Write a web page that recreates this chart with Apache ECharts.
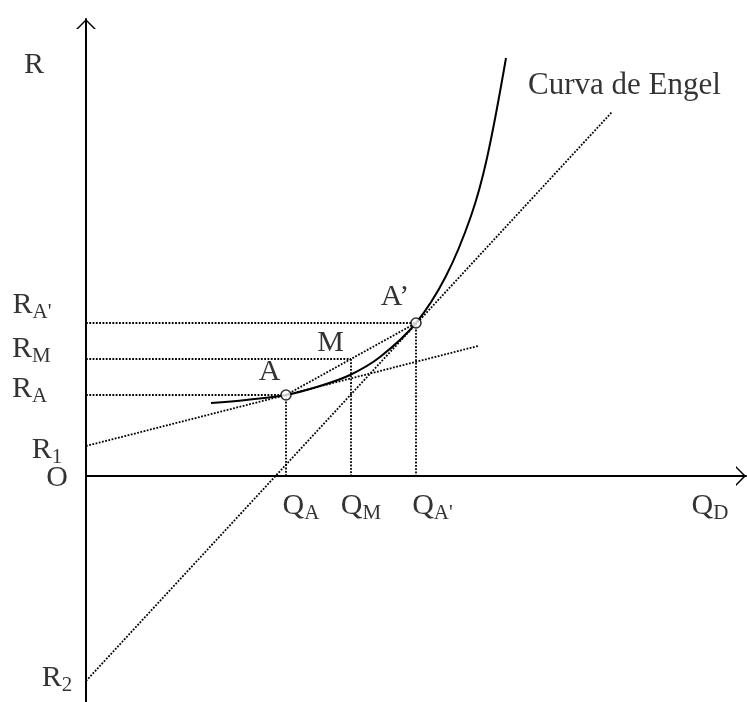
<!DOCTYPE html>
<html>
<head>
<meta charset="utf-8">
<script src="https://cdn.jsdelivr.net/npm/echarts@6/dist/echarts.min.js"></script>
<style>
  html, body { margin: 0; padding: 0; background: #fff; }
  #chart { width: 747px; height: 702px; }
</style>
</head>
<body>
<div id="chart"></div>
<script>
// Engel curve: income R against quantity demanded Q_D
const engelQ = [12.5, 16, 20, 23.4, 26.4, 29.4, 33, 36, 38.5, 40.1, 42];
const engelR = [7.3, 7.6, 8.1, 9.0, 10.1, 11.9, 15.3, 20.0, 26.0, 31.8, 41.8];

// Marked points: A and A' on the curve, M midway on the chord A-A'
const pointQ = [20, 26.5, 33];
const pointR = [8.1, 11.7, 15.3];
const pointLabels = ['A', 'M', 'A\u2019'];

// Tangents: at A (cuts the R axis at R1) and at A' (cuts it at R2)
const tangentIntercepts = [3.0, -20.5];
const tangentEndQ = [39.2, 52.6];
const tangentEndR = [13.0, 36.4];

// Axis extents and tick texts
const qMax = 66;
const rMin = -22.6;
const rMax = 45.7;
const rTickSubs = ["A'", 'M', 'A', '1', '2'];
const qTickSubs = ['A', 'M', "A'"];
const qAxisSub = 'D';
const rAxisTitle = 'R';
const originLabel = 'O';
const curveName = 'Curva de Engel';

// ---- layout (pixel offsets of the texts from their anchors) ----
const rTickOffsets = [[-54, -18], [-54.6, -10], [-56.4, -6], [-39, 4], [-29, -3]];
const qTickOffsets = [[15, 30], [10, 30], [16.5, 30]];
const qAxisOffset = [-36, 30];
const pointLabelOffsets = [[-16.5, -23], [-20.5, -16], [-21, -26]];
const rTitleOffset = [-52, 46];
const originOffset = [-29, 2];
const curveNameOffset = [118.5, 27.5];

const FONT = 'Liberation Serif';
const dotted = { color: '#000', width: 1.8, type: [1.8, 1.5], cap: 'butt' };
const arrowPath = 'path://M0,10 L10,0 L20,10 L17.9,10 L10,2.1 L2.1,10 Z';

function segment(p, q) {
  return {
    type: 'line', data: [p, q], symbol: 'none', silent: true,
    lineStyle: dotted, z: 2
  };
}

const series = [];

// dotted projections of A, M, A' onto both axes
for (let i = 0; i < pointQ.length; i++) {
  series.push(segment([0, pointR[i]], [pointQ[i], pointR[i]]));
  series.push(segment([pointQ[i], pointR[i]], [pointQ[i], 0]));
}
// chord A - A'
series.push(segment([pointQ[0], pointR[0]], [pointQ[2], pointR[2]]));
// tangents
for (let j = 0; j < tangentIntercepts.length; j++) {
  series.push(segment([0, tangentIntercepts[j]], [tangentEndQ[j], tangentEndR[j]]));
}

// the Engel curve
series.push({
  type: 'line', data: engelQ.map((q, i) => [q, engelR[i]]),
  symbol: 'none', smooth: 0.35, silent: true, z: 3,
  lineStyle: { color: '#000', width: 2 }
});

// hollow markers at A and A'
series.push({
  type: 'scatter', silent: true, z: 5,
  data: [[pointQ[0], pointR[0]], [pointQ[2], pointR[2]]],
  symbol: 'circle', symbolSize: 10,
  itemStyle: { color: '#fff', borderColor: '#000', borderWidth: 1.6 }
});

// texts
const textItems = [];
function addText(value, text, offset) {
  textItems.push({ value: value, label: { formatter: text, offset: offset } });
}
const rTickValues = [pointR[2], pointR[1], pointR[0], tangentIntercepts[0], tangentIntercepts[1]];
rTickValues.forEach((v, i) => addText([0, v], '{m|R}{s|' + rTickSubs[i] + '}', rTickOffsets[i]));
qTickSubs.forEach((s, i) => addText([pointQ[i], 0], '{m|Q}{s|' + s + '}', qTickOffsets[i]));
addText([qMax, 0], '{m|Q}{s|' + qAxisSub + '}', qAxisOffset);
pointLabels.forEach((t, i) => addText([pointQ[i], pointR[i]], '{m|' + t + '}', pointLabelOffsets[i]));
addText([0, rMax], '{m|' + rAxisTitle + '}', rTitleOffset);
addText([0, 0], '{m|' + originLabel + '}', originOffset);
addText([engelQ[engelQ.length - 1], engelR[engelR.length - 1]], '{c|' + curveName + '}', curveNameOffset);

series.push({
  type: 'scatter', silent: true, z: 6, symbolSize: 0,
  data: textItems,
  label: {
    show: true, position: 'inside', color: '#000',
    rich: {
      m: { fontFamily: FONT, fontSize: 30, color: '#000' },
      s: { fontFamily: FONT, fontSize: 21, color: '#000', padding: [14, 0, 0, 0] },
      c: { fontFamily: FONT, fontSize: 31, color: '#000' }
    }
  }
});

const axisCommon = {
  type: 'value',
  axisTick: { show: false },
  axisLabel: { show: false },
  splitLine: { show: false },
  axisLine: {
    show: true, onZero: true,
    lineStyle: { color: '#000', width: 2 },
    symbol: ['none', arrowPath],
    symbolSize: [20, 10],
    symbolOffset: [0, -5]
  }
};

const chart = echarts.init(document.getElementById('chart'), null, { renderer: 'canvas' });
chart.setOption({
  animation: false,
  backgroundColor: '#fff',
  grid: { left: 86, top: 19, width: 660, height: 683, outerBoundsMode: 'none' },
  xAxis: Object.assign({}, axisCommon, { min: 0, max: qMax }),
  yAxis: Object.assign({}, axisCommon, { min: rMin, max: rMax }),
  series: series
});
</script>
</body>
</html>
